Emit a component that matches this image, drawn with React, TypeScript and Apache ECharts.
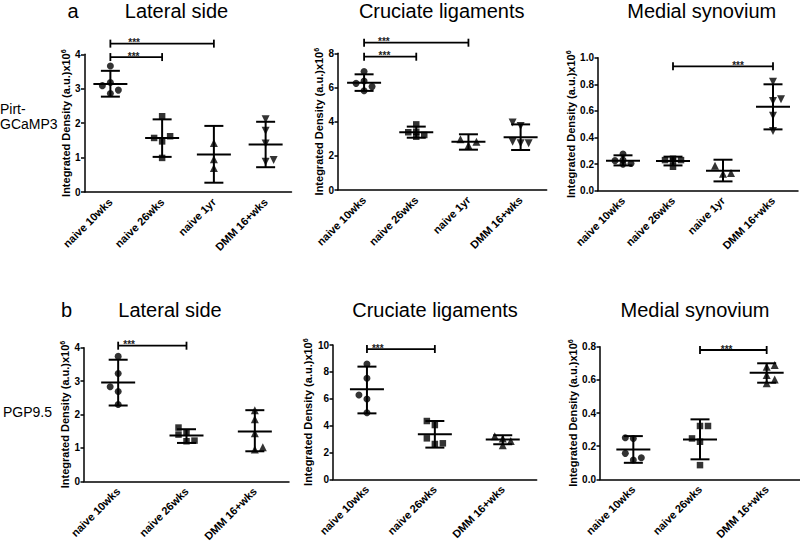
import React, { useEffect, useRef } from "react";
import * as echarts from "echarts";

const catsA = ["naive 10wks", "naive 26wks", "naive 1yr", "DMM 16+wks"];
const catsB = ["naive 10wks", "naive 26wks", "DMM 16+wks"];

const titles = ["Lateral side", "Cruciate ligaments", "Medial synovium"];
const rowLetters = ["a", "b"];
const rowNameA = ["Pirt-", "GCaMP3"];
const rowNameB = ["PGP9.5"];
const yAxisName = "Integrated Density (a.u.)x10";
const yAxisExp = "6";
const yMax = [4, 8, 1.0, 4, 10, 0.8];
const yStep = [1, 2, 0.2, 1, 2, 0.2];
const yDecimals = [0, 0, 1, 0, 0, 1];
const sigText = "***";

// a – Lateral side
const a1Points = [[3.66, 3.18, 3.09, 2.96, 2.86], [2.2, 1.57, 1.62, 1.47, 0.99], [1.42, 0.95, 0.7], [2.11, 1.78, 1.41, 0.88, 0.93]];
const a1Jitter = [[0, 0, -1, 1, 0], [0, -1, 1, 0, 0], [0, 0, 0], [0, 0, 0, 0, 1]];
const a1Mean = [3.14, 1.57, 1.09, 1.38];
const a1Hi = [3.52, 2.11, 1.92, 2.04];
const a1Lo = [2.77, 1.02, 0.27, 0.72];
const a1Sig = [[0, 2, 4.31, 0.23], [0, 1, 3.92, 0.45]];

// a – Cruciate ligaments
const a2Points = [[6.93, 6.24, 6.38, 6.05, 5.81], [3.84, 3.38, 3.41, 3.22, 3.12], [2.97, 2.6, 2.83], [3.95, 3.75, 2.82, 2.73, 2.73]];
const a2Jitter = [[0, -1, 0, 1, 0], [0, -1, 0, 1, 0], [-1, 0, 1], [-1, 0, -1, 0, 1]];
const a2Mean = [6.28, 3.38, 2.83, 3.08];
const a2Hi = [6.77, 3.71, 3.26, 3.84];
const a2Lo = [5.8, 3.06, 2.36, 2.34];
const a2Sig = [[0, 2, 8.62, 0.19], [0, 1, 7.8, 0.39]];

// a – Medial synovium
const a3Points = [[0.276, 0.226, 0.23, 0.205, 0.2], [0.23, 0.24, 0.23, 0.18, 0.225], [0.188, 0.128, 0.133], [0.82, 0.674, 0.687, 0.564, 0.449]];
const a3Jitter = [[0, -1, 0, 1, 0], [-1, 0, 1, 0, 0], [-1, 0, 1], [0, 0, 1, 0, 0]];
const a3Mean = [0.226, 0.223, 0.15, 0.632];
const a3Hi = [0.266, 0.256, 0.233, 0.8];
const a3Lo = [0.19, 0.19, 0.07, 0.461];
const a3Sig = [[1, 3, 0.935, 0.65]];

// b – Lateral side
const b1Points = [[3.74, 3.23, 2.83, 2.69, 2.3], [1.61, 1.46, 1.4, 1.2, 1.22], [2.13, 1.86, 1.44, 1.02, 0.95]];
const b1Jitter = [[0, 0, -1, 0, 0], [-1, 0, -1, 0, 1], [0, 0, 0, 1, 0]];
const b1Mean = [2.96, 1.37, 1.49];
const b1Hi = [3.64, 1.56, 2.13];
const b1Lo = [2.27, 1.15, 0.9];
const b1Sig = [[0, 1, 4.06, 0.16]];

// b – Cruciate ligaments
const b2Points = [[8.59, 7.52, 6.28, 5.98, 4.96], [4.34, 4.04, 3.05, 2.63, 2.68], [3.21, 3.03, 2.86, 2.54]];
const b2Jitter = [[0, 0, -1, 0, 0], [-1, 0, -1, 0, 1], [-1, 0, 1, 0]];
const b2Mean = [6.7, 3.35, 2.96];
const b2Hi = [8.39, 4.34, 3.28];
const b2Lo = [4.91, 2.36, 2.61];
const b2Sig = [[0, 1, 9.7, 0.16]];

// b – Medial synovium
const b3Points = [[0.251, 0.247, 0.157, 0.131, 0.117], [0.322, 0.322, 0.247, 0.227, 0.086], [0.689, 0.679, 0.629, 0.603, 0.579]];
const b3Jitter = [[-1, 0, -1, 1, 0], [0, 1, -1, 0, 0], [1, 0, 0, 1, 0]];
const b3Mean = [0.181, 0.241, 0.643];
const b3Hi = [0.261, 0.362, 0.7];
const b3Lo = [0.1, 0.121, 0.583];
const b3Sig = [[1, 2, 0.78, 0.4]];

const symbolsA = ["circle", "rect", "triangle", "triangle"];
const rotateA = [0, 0, 0, 180];
const symbolsB = ["circle", "rect", "triangle"];
const rotateB = [0, 0, 0];

const FONT = '"Liberation Sans", Arial, sans-serif';
const INK = "#000";

const panels = [
  { cats: catsA, pts: a1Points, jit: a1Jitter, mean: a1Mean, hi: a1Hi, lo: a1Lo, sig: a1Sig, sym: symbolsA, rot: rotateA },
  { cats: catsA, pts: a2Points, jit: a2Jitter, mean: a2Mean, hi: a2Hi, lo: a2Lo, sig: a2Sig, sym: symbolsA, rot: rotateA },
  { cats: catsA, pts: a3Points, jit: a3Jitter, mean: a3Mean, hi: a3Hi, lo: a3Lo, sig: a3Sig, sym: symbolsA, rot: rotateA },
  { cats: catsB, pts: b1Points, jit: b1Jitter, mean: b1Mean, hi: b1Hi, lo: b1Lo, sig: b1Sig, sym: symbolsB, rot: rotateB },
  { cats: catsB, pts: b2Points, jit: b2Jitter, mean: b2Mean, hi: b2Hi, lo: b2Lo, sig: b2Sig, sym: symbolsB, rot: rotateB },
  { cats: catsB, pts: b3Points, jit: b3Jitter, mean: b3Mean, hi: b3Hi, lo: b3Lo, sig: b3Sig, sym: symbolsB, rot: rotateB },
];

const gridBoxes = [
  { left: 84.5, top: 54.3, width: 207, height: 137.7 },
  { left: 338, top: 53.3, width: 208.7, height: 136.7 },
  { left: 598, top: 57.7, width: 200, height: 133 },
  { left: 84, top: 347.7, width: 205, height: 136.7 },
  { left: 333, top: 345, width: 203.7, height: 134.3 },
  { left: 600, top: 346.7, width: 200, height: 132.7 },
];
const nameGaps = [10.5, 9, 18, 12, 13, 18];

function buildOption() {
  const grid = gridBoxes.map((g) => ({ ...g }));
  const xAxis = panels.map((p, i) => ({
    type: "category",
    gridIndex: i,
    data: p.cats,
    boundaryGap: true,
    axisLine: { lineStyle: { color: INK, width: 1.5 } },
    axisTick: { alignWithLabel: true, length: 4, lineStyle: { color: INK, width: 1.5 } },
    axisLabel: { rotate: 45, margin: 8, color: INK, fontSize: 11, fontWeight: "bold", fontFamily: FONT, interval: 0 },
    splitLine: { show: false },
  }));
  const yAxis = panels.map((p, i) => ({
    type: "value",
    gridIndex: i,
    min: 0,
    max: yMax[i],
    interval: yStep[i],
    axisLine: { show: true, lineStyle: { color: INK, width: 1.5 } },
    axisTick: { show: true, length: 3.5, lineStyle: { color: INK, width: 1.5 } },
    axisLabel: {
      margin: 4,
      color: INK,
      fontSize: 10,
      fontWeight: "bold",
      fontFamily: FONT,
      formatter: (v: number) => v.toFixed(yDecimals[i]),
    },
    splitLine: { show: false },
    name: yAxisName + "{sup|" + yAxisExp + "}",
    nameLocation: "middle",
    nameRotate: 90,
    nameGap: nameGaps[i],
    nameTextStyle: {
      color: INK,
      fontSize: 11,
      fontWeight: "bold",
      fontFamily: FONT,
      rich: { sup: { fontSize: 7, fontWeight: "bold", fontFamily: FONT, color: INK, verticalAlign: "top", padding: [0, 0, 5, 0] } },
    },
  }));

  const series: any[] = [];
  panels.forEach((p, i) => {
    const data: any[] = [];
    p.pts.forEach((vals, c) => {
      vals.forEach((v, k) => {
        data.push({
          value: [c, v],
          symbol: p.sym[c],
          symbolRotate: p.rot[c],
          symbolSize: p.sym[c] === "triangle" ? 8 : p.sym[c] === "rect" ? 6.5 : 7,
          symbolOffset: [p.jit[c][k] * 8, 0],
        });
      });
    });
    series.push({
      type: "scatter",
      xAxisIndex: i,
      yAxisIndex: i,
      data,
      itemStyle: { color: INK },
      silent: true,
      z: 3,
    });
    series.push({
      type: "custom",
      xAxisIndex: i,
      yAxisIndex: i,
      clip: false,
      silent: true,
      z: 4,
      itemStyle: { color: INK },
      data: p.mean.map((m, c) => [c, m, p.lo[c], p.hi[c]]),
      renderItem: (_params: any, api: any) => {
        const x = api.value(0);
        const m = api.coord([x, api.value(1)]);
        const lo = api.coord([x, api.value(2)]);
        const hi = api.coord([x, api.value(3)]);
        const st = { stroke: INK, lineWidth: 2 };
        return {
          type: "group",
          children: [
            { type: "line", shape: { x1: m[0], y1: hi[1], x2: m[0], y2: lo[1] }, style: st },
            { type: "line", shape: { x1: m[0] - 9.5, y1: hi[1], x2: m[0] + 9.5, y2: hi[1] }, style: st },
            { type: "line", shape: { x1: m[0] - 9.5, y1: lo[1], x2: m[0] + 9.5, y2: lo[1] }, style: st },
            { type: "line", shape: { x1: m[0] - 17, y1: m[1], x2: m[0] + 17, y2: m[1] }, style: st },
          ],
        };
      },
    });
    series.push({
      type: "custom",
      xAxisIndex: i,
      yAxisIndex: i,
      clip: false,
      silent: true,
      z: 4,
      itemStyle: { color: INK },
      data: p.sig.map((s) => [s[0], s[2], s[1], s[3]]),
      renderItem: (_params: any, api: any) => {
        const y = api.value(1);
        const a = api.coord([api.value(0), y]);
        const b = api.coord([api.value(2), y]);
        const f = api.value(3);
        const st = { stroke: INK, lineWidth: 1.8 };
        return {
          type: "group",
          children: [
            { type: "line", shape: { x1: a[0], y1: a[1], x2: b[0], y2: b[1] }, style: st },
            { type: "line", shape: { x1: a[0], y1: a[1] - 4, x2: a[0], y2: a[1] + 4 }, style: st },
            { type: "line", shape: { x1: b[0], y1: b[1] - 4, x2: b[0], y2: b[1] + 4 }, style: st },
            {
              type: "text",
              x: a[0] + f * (b[0] - a[0]),
              y: a[1] - 1,
              style: { text: sigText, fill: "#222", fontSize: 10, fontWeight: "bold", fontFamily: FONT, align: "center", verticalAlign: "middle" },
            },
          ],
        };
      },
    });
  });

  const titleX = [[176.5, 441.7, 701.7], [170, 435, 695]];
  const titleY = [11, 309.5];
  const graphic: any[] = [];
  titleX.forEach((row, r) => {
    row.forEach((x, c) => {
      graphic.push({
        type: "text",
        x,
        y: titleY[r],
        style: { text: titles[c], fill: INK, fontSize: 20, fontFamily: FONT, align: "center", verticalAlign: "middle" },
      });
    });
  });
  graphic.push({ type: "text", x: 73, y: titleY[0], style: { text: rowLetters[0], fill: INK, fontSize: 20, fontFamily: FONT, align: "center", verticalAlign: "middle" } });
  graphic.push({ type: "text", x: 66.5, y: titleY[1], style: { text: rowLetters[1], fill: INK, fontSize: 20, fontFamily: FONT, align: "center", verticalAlign: "middle" } });
  graphic.push({ type: "text", x: 0, y: 108.5, style: { text: rowNameA[0], fill: INK, fontSize: 14, fontFamily: FONT, align: "left", verticalAlign: "middle" } });
  graphic.push({ type: "text", x: 0, y: 123.5, style: { text: rowNameA[1], fill: INK, fontSize: 14, fontFamily: FONT, align: "left", verticalAlign: "middle" } });
  graphic.push({ type: "text", x: 3, y: 411.8, style: { text: rowNameB[0], fill: INK, fontSize: 14, fontFamily: FONT, align: "left", verticalAlign: "middle" } });

  return {
    animation: false,
    backgroundColor: "#fff",
    textStyle: { fontFamily: FONT },
    grid,
    xAxis,
    yAxis,
    series,
    graphic,
  };
}

export default function App() {
  const ref = useRef<HTMLDivElement>(null);
  useEffect(() => {
    if (!ref.current) return;
    const chart = echarts.init(ref.current, null, { renderer: "svg" });
    chart.setOption(buildOption() as any);
    return () => chart.dispose();
  }, []);
  return <div ref={ref} style={{ width: 800, height: 544, position: "absolute", left: 0, top: 0 }} />;
}
